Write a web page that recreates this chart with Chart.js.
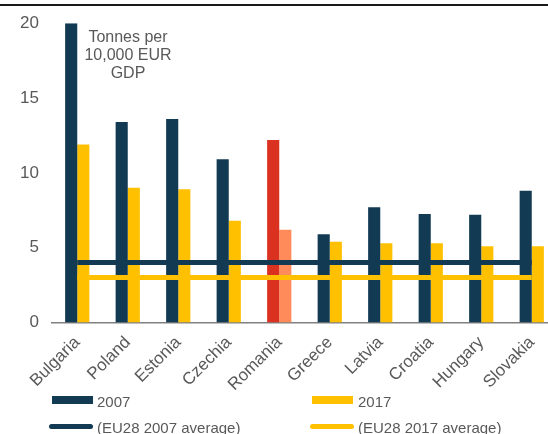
<!DOCTYPE html>
<html>
<head>
<meta charset="utf-8">
<script src="https://cdn.jsdelivr.net/npm/chart.js@4"></script>
<style>
  body { margin: 0; background: #fff; font-family: "Liberation Sans", Arial, sans-serif; }
  #wrap { position: relative; width: 548px; height: 434px; overflow: hidden; }
  #topline { position: absolute; left: 0; top: 4px; width: 548px; height: 2px; background: #1a1a1a; }
  #chart { position: absolute; left: 0; top: 0; }
  .lg { position: absolute; font-size: 15px; color: #595959; line-height: 16px; }
  .box { position: absolute; height: 8px; width: 41px; }
  .ln { position: absolute; height: 5px; width: 44px; border-radius: 3px; }
</style>
</head>
<body>
<div id="wrap">
  <div id="topline"></div>
  <canvas id="chart" width="557" height="405"></canvas>
  <div class="box" style="left:52px;top:396px;background:#123a53"></div>
  <div class="lg" style="left:97px;top:394px">2007</div>
  <div class="box" style="left:312px;top:396px;background:#ffc000"></div>
  <div class="lg" style="left:358px;top:394px">2017</div>
  <div class="ln" style="left:49px;top:424px;background:#123a53"></div>
  <div class="lg" style="left:97px;top:420px">(EU28 2007 average)</div>
  <div class="ln" style="left:310px;top:424px;background:#ffc000"></div>
  <div class="lg" style="left:358px;top:420px">(EU28 2017 average)</div>
</div>
<script>
const countries = ['Bulgaria', 'Poland', 'Estonia', 'Czechia', 'Romania', 'Greece', 'Latvia', 'Croatia', 'Hungary', 'Slovakia'];
const values2007 = [20.0, 13.4, 13.6, 10.9, 12.2, 5.9, 7.7, 7.25, 7.2, 8.8];
const values2017 = [11.9, 9.0, 8.9, 6.8, 6.2, 5.4, 5.3, 5.3, 5.1, 5.1];
const avg2007 = 4.0;
const avg2017 = 3.0;
const yTicks = [0, 5, 10, 15, 20];

const navy = '#123a53';
const yellow = '#ffc000';
const highlight = 'Romania';

const colors2007 = countries.map(c => c === highlight ? '#db3120' : navy);
const colors2017 = countries.map(c => c === highlight ? '#ff8b5a' : yellow);

// unit note in the top left of the plot
const notePlugin = {
  id: 'note',
  afterDraw(chart) {
    const ctx = chart.ctx;
    ctx.save();
    ctx.fillStyle = '#595959';
    ctx.font = '16px "Liberation Sans", Arial, sans-serif';
    ctx.textAlign = 'center';
    ctx.textBaseline = 'middle';
    ['Tonnes per', '10,000 EUR', 'GDP'].forEach((t, i) => {
      ctx.fillText(t, 128, 38 + i * 18);
    });
    ctx.restore();
  }
};

const ctx = document.getElementById('chart').getContext('2d');
const myChart = new Chart(ctx, {
  data: {
    labels: countries,
    datasets: [
      {
        type: 'line',
        label: '(EU28 2007 average)',
        data: countries.map(() => avg2007),
        borderColor: navy,
        borderWidth: 5,
        pointRadius: 0,
        order: 0,
      },
      {
        type: 'line',
        label: '(EU28 2017 average)',
        data: countries.map(() => avg2017),
        borderColor: yellow,
        borderWidth: 5,
        pointRadius: 0,
        order: 0,
      },
      {
        type: 'bar',
        label: '2007',
        data: values2007,
        backgroundColor: colors2007,
        categoryPercentage: 0.48,
        barPercentage: 1,
        order: 1,
      },
      {
        type: 'bar',
        label: '2017',
        data: values2017,
        backgroundColor: colors2017,
        categoryPercentage: 0.48,
        barPercentage: 1,
        order: 1,
      },
    ],
  },
  options: {
    responsive: false,
    animation: false,
    layout: { padding: { top: 20, left: 2, right: 0, bottom: 0 } },
    plugins: {
      legend: { display: false },
      tooltip: { enabled: false },
    },
    scales: {
      x: {
        grid: { display: false, drawTicks: false },
        border: { color: '#808080', width: 1.5 },
        ticks: {
          color: '#595959',
          font: { size: 17, family: '"Liberation Sans", Arial, sans-serif' },
          minRotation: 45,
          maxRotation: 45,
          padding: 10,
        },
      },
      y: {
        min: 0,
        max: 20,
        afterBuildTicks(axis) {
          axis.ticks = yTicks.map(v => ({ value: v }));
        },
        afterFit(axis) {
          axis.width = 50;
        },
        grid: { display: false, drawTicks: false },
        border: { display: false },
        ticks: {
          color: '#595959',
          font: { size: 17, family: '"Liberation Sans", Arial, sans-serif' },
          padding: 13,
        },
      },
    },
  },
  plugins: [notePlugin],
});
</script>
</body>
</html>
